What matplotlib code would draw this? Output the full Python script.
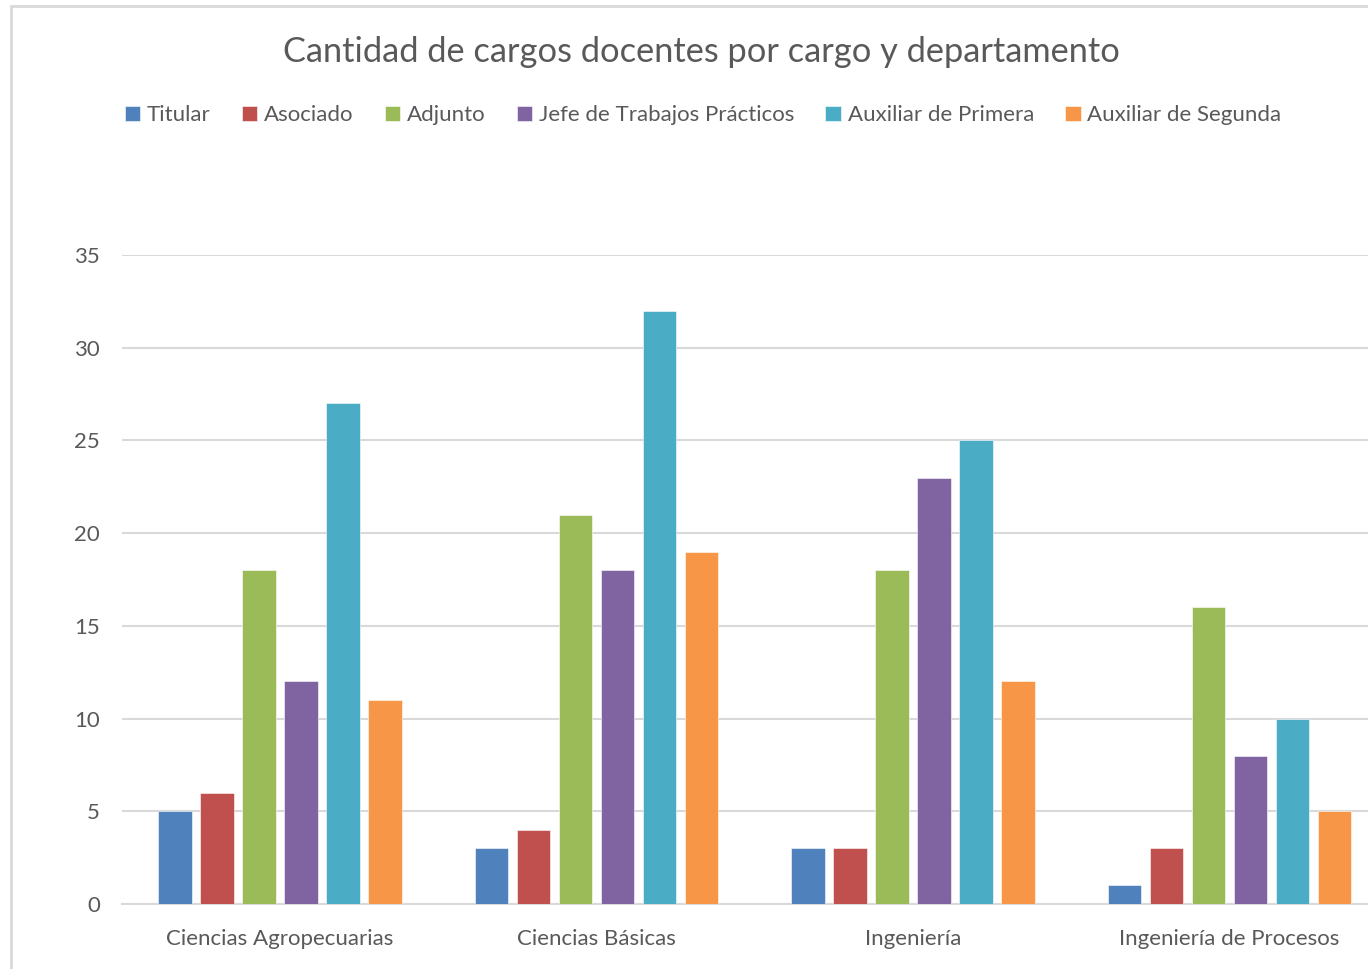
import matplotlib.pyplot as plt
import numpy as np
from matplotlib.patches import Rectangle

plt.rcParams['font.family'] = ['Lato', 'DejaVu Sans']

departamentos = ['Ciencias Agropecuarias', 'Ciencias Básicas', 'Ingeniería', 'Ingeniería de Procesos']
cargos = ['Titular', 'Asociado', 'Adjunto', 'Jefe de Trabajos Prácticos',
          'Auxiliar de Primera', 'Auxiliar de Segunda']
titular = [5, 3, 3, 1]
asociado = [6, 4, 3, 3]
adjunto = [18, 21, 18, 16]
jtp = [12, 18, 23, 8]
aux_primera = [27, 32, 25, 10]
aux_segunda = [11, 19, 12, 5]
colores = ['#4F81BD', '#C0504D', '#9BBB59', '#8064A2', '#4BACC6', '#F79646']

series = [titular, asociado, adjunto, jtp, aux_primera, aux_segunda]
txt = '#595959'
grid = '#D9D9D9'

fig = plt.figure(figsize=(13.68, 9.69), dpi=100)
ax = fig.add_axes([0.0892, 0.0671, 0.9108, 0.6697])

x = np.arange(len(departamentos))
slot = 0.1327
width = 0.105
for i, (vals, c) in enumerate(zip(series, colores)):
    ax.bar(x + (i - 2.5) * slot, vals, width=width, color=c, label=cargos[i],
           edgecolor='white', linewidth=0.4, zorder=3)

ax.set_xlim(-0.499, 3.438)
ax.set_ylim(0, 35)
ax.set_yticks(range(0, 36, 5))
ax.yaxis.grid(True, color=grid, linewidth=1.5, zorder=0)
ax.set_axisbelow(True)
for s in ['top', 'right', 'left']:
    ax.spines[s].set_visible(False)
ax.spines['bottom'].set_color(grid)
ax.spines['bottom'].set_linewidth(1.5)
ax.tick_params(axis='both', length=0, colors=txt, labelsize=16)
ax.tick_params(axis='y', pad=16)
ax.tick_params(axis='x', pad=18)
ax.set_xticks(x)
ax.set_xticklabels(departamentos)

fig.text(0.513, 0.946, 'Cantidad de cargos docentes por cargo y departamento',
         ha='center', va='center', fontsize=24.75, color=txt)

leg = fig.legend(loc='center', bbox_to_anchor=(0.514, 0.881), ncol=6, frameon=False,
                 fontsize=16, labelcolor=txt, handlelength=0.7, handleheight=0.7,
                 handletextpad=0.3, columnspacing=1.4)

# chart frame
fig.patches.append(Rectangle((0.008, -0.01), 1.1, 1.004, transform=fig.transFigure,
                             fill=False, edgecolor=grid, linewidth=2))

fig.savefig('out.png', dpi=100)
